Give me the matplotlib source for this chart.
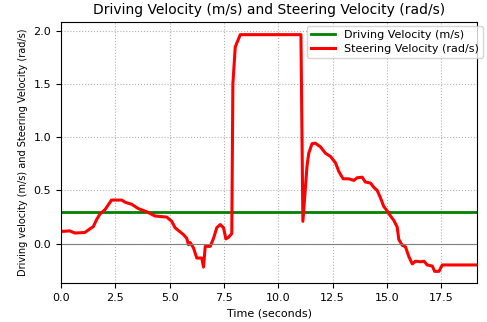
import matplotlib
matplotlib.use("Agg")
import matplotlib.pyplot as plt

# time (s) and steering velocity (rad/s)
time = [0.0, 0.41, 0.65, 1.1, 1.34, 1.49, 1.64, 1.8, 2.03, 2.33, 2.8, 2.95,
        3.26, 3.56, 3.95, 4.33, 4.87, 5.1, 5.25, 5.64, 5.79, 5.87, 5.95, 6.1,
        6.25, 6.48, 6.56, 6.64, 6.87, 7.02, 7.17, 7.33, 7.48, 7.59, 7.71, 7.86,
        7.91, 8.02, 8.25, 11.04, 11.13, 11.32, 11.4, 11.55, 11.7, 11.94, 12.17,
        12.4, 12.63, 12.78, 12.98, 13.24, 13.47, 13.63, 13.86, 14.0, 14.24,
        14.39, 14.55, 14.7, 14.85, 15.0, 15.16, 15.31, 15.47, 15.54, 15.7,
        15.85, 16.0, 16.16, 16.31, 16.54, 16.7, 16.85, 17.08, 17.19, 17.39,
        17.54, 19.15]
steering = [0.115, 0.12, 0.10, 0.105, 0.14, 0.16, 0.225, 0.28, 0.32, 0.41,
            0.41, 0.39, 0.37, 0.33, 0.30, 0.26, 0.25, 0.21, 0.15, 0.085, 0.05,
            -0.01, 0.01, -0.04, -0.135, -0.135, -0.22, -0.025, -0.025, 0.05,
            0.15, 0.18, 0.15, 0.045, 0.06, 0.095, 1.5, 1.85, 1.965, 1.965,
            0.21, 0.73, 0.85, 0.94, 0.945, 0.91, 0.85, 0.82, 0.76, 0.68, 0.61,
            0.61, 0.595, 0.62, 0.625, 0.58, 0.57, 0.53, 0.50, 0.43, 0.35, 0.31,
            0.26, 0.22, 0.155, 0.04, -0.015, -0.03, -0.12, -0.19, -0.165, -0.17,
            -0.165, -0.20, -0.21, -0.26, -0.26, -0.20, -0.20]
driving_speed = 0.3

fig = plt.figure(figsize=(4.87, 3.22), dpi=100)
ax = fig.add_axes([0.125, 0.121, 0.855, 0.811])

ax.plot([time[0], time[-1]], [driving_speed, driving_speed], color="green",
        linewidth=2, label="Driving Velocity (m/s)")
ax.plot(time, steering, color="red", linewidth=2.2, label="Steering Velocity (rad/s)")
ax.axhline(0, color="gray", linewidth=0.8)

ax.set_xlim(0, 19.15)
ax.set_ylim(-0.37, 2.085)
ax.grid(True, linestyle=":", color="#b0b0b0", linewidth=0.8)
ax.tick_params(labelsize=8)

ax.set_title("Driving Velocity (m/s) and Steering Velocity (rad/s)", fontsize=10)
ax.set_xlabel("Time (seconds)", fontsize=8)
ax.set_ylabel("Driving velocity (m/s) and Steering Velocity (rad/s)", fontsize=7)

ax.legend(fontsize=8, loc="upper right", bbox_to_anchor=(483 / 487, 1 - 26 / 322),
          bbox_transform=fig.transFigure, borderaxespad=0, handlelength=2.2,
          labelspacing=0.35, borderpad=0.35)

fig.savefig("out.png", dpi=100)
